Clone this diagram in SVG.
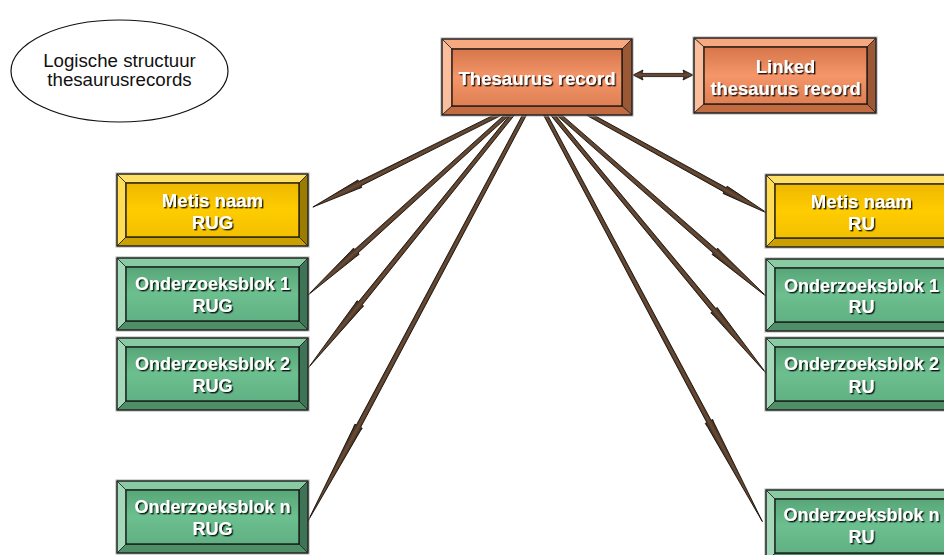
<svg xmlns="http://www.w3.org/2000/svg" xmlns:xlink="http://www.w3.org/1999/xlink" width="944" height="555" viewBox="0 0 944 555">
<style>
.bt{font-family:"Liberation Sans",Arial,sans-serif;font-weight:bold;fill:#fff;text-anchor:middle;filter:url(#sh)}
.lt{font-family:"Liberation Sans",Arial,sans-serif;font-size:18.7px;fill:#111;text-anchor:middle}
.fr{fill:none;stroke:#222;stroke-width:1.1}
.ln{stroke:#222;stroke-width:0.8}
.spear{fill:url(#wood);stroke:#140c06;stroke-width:0.8;stroke-linejoin:round}
.ob{font-size:18px}
.mt{font-size:18.6px}
</style>
<defs>
<filter id="sh" x="-10%" y="-30%" width="120%" height="160%">
<feDropShadow dx="1.4" dy="1.4" stdDeviation="0.4" flood-color="#000" flood-opacity="0.85"/>
</filter>
<linearGradient id="gO" x1="0" y1="0" x2="0" y2="1"><stop offset="0" stop-color="#D6764A"/><stop offset="0.5" stop-color="#F4956A"/><stop offset="1" stop-color="#DE8053"/></linearGradient>
<linearGradient id="gY" x1="0" y1="0" x2="0" y2="1"><stop offset="0" stop-color="#EDB800"/><stop offset="0.5" stop-color="#FFCC00"/><stop offset="1" stop-color="#F2C000"/></linearGradient>
<linearGradient id="gG" x1="0" y1="0" x2="0" y2="1"><stop offset="0" stop-color="#58A678"/><stop offset="0.5" stop-color="#6CBF8E"/><stop offset="1" stop-color="#60B083"/></linearGradient>
<linearGradient id="wood" x1="0" y1="0" x2="0" y2="1"><stop offset="0" stop-color="#3A2819"/><stop offset="0.5" stop-color="#6A4D37"/><stop offset="1" stop-color="#33231A"/></linearGradient>
<symbol id="boxY" viewBox="0 0 191 72" width="191" height="72" overflow="visible">
<rect x="-1" y="-1" width="193" height="74" fill="none" stroke="#aaa" stroke-width="1"/>
<polygon points="0,0 191,0 182,9 9,9" fill="#FFE066" class="ln"/>
<polygon points="0,0 9,9 9,63 0,72" fill="#FFDD55" class="ln"/>
<polygon points="191,0 191,72 182,63 182,9" fill="#9C7C00" class="ln"/>
<polygon points="0,72 9,63 182,63 191,72" fill="#C9A000" class="ln"/>
<rect x="9" y="9" width="173" height="54" fill="url(#gY)" stroke="#111" stroke-width="1.3"/>
<rect x="0" y="0" width="191" height="72" class="fr"/>
</symbol>
<symbol id="boxG" viewBox="0 0 191 72" width="191" height="72" overflow="visible">
<rect x="-1" y="-1" width="193" height="74" fill="none" stroke="#aaa" stroke-width="1"/>
<polygon points="0,0 191,0 182,9 9,9" fill="#88CBA2" class="ln"/>
<polygon points="0,0 9,9 9,63 0,72" fill="#A3D9B8" class="ln"/>
<polygon points="191,0 191,72 182,63 182,9" fill="#3E7455" class="ln"/>
<polygon points="0,72 9,63 182,63 191,72" fill="#4E8F67" class="ln"/>
<rect x="9" y="9" width="173" height="54" fill="url(#gG)" stroke="#111" stroke-width="1.3"/>
<rect x="0" y="0" width="191" height="72" class="fr"/>
</symbol>
</defs>
<rect width="944" height="555" fill="#fff"/>

<g id="title">
<ellipse cx="119.5" cy="71" rx="108.5" ry="51" fill="#fff" stroke="#111" stroke-width="1.2"/>
<text class="lt" x="119.5" y="66.7">Logische structuur</text>
<text class="lt" x="119.5" y="86">thesaurusrecords</text>
</g>

<g id="connectors">
<polygon class="spear" transform="translate(500 114) rotate(153.56)" points="0,-1.8 156.5,-2.4 156.5,-4.2 161,-3.8 209,0 161,3.8 156.5,4.2 156.5,2.4 0,1.8"/>
<polygon class="spear" transform="translate(508 114) rotate(137.85)" points="0,-1.8 204.5,-2.4 204.5,-4.2 209,-3.8 270.5,0 209,3.8 204.5,4.2 204.5,2.4 0,1.8"/>
<polygon class="spear" transform="translate(513 114) rotate(128.88)" points="0,-1.8 243.2,-2.4 243.2,-4.2 248,-3.8 326,0 248,3.8 243.2,4.2 243.2,2.4 0,1.8"/>
<polygon class="spear" transform="translate(525 114) rotate(118.07)" points="0,-1.8 353.8,-2.4 353.8,-4.2 358,-3.8 462,0 358,3.8 353.8,4.2 353.8,2.4 0,1.8"/>
<polygon class="spear" transform="translate(588 114) rotate(28.95)" points="0,-1.8 156.7,-2.4 156.7,-4.2 161,-3.8 205.5,0 161,3.8 156.7,4.2 156.7,2.4 0,1.8"/>
<polygon class="spear" transform="translate(558 114) rotate(41.2)" points="0,-1.8 208.4,-2.4 208.4,-4.2 213,-3.8 278.5,0 213,3.8 208.4,4.2 208.4,2.4 0,1.8"/>
<polygon class="spear" transform="translate(552 114) rotate(50.44)" points="0,-1.8 254.4,-2.4 254.4,-4.2 259,-3.8 337,0 259,3.8 254.4,4.2 254.4,2.4 0,1.8"/>
<polygon class="spear" transform="translate(545 114) rotate(61.93)" points="0,-1.8 348.4,-2.4 348.4,-4.2 353,-3.8 462,0 353,3.8 348.4,4.2 348.4,2.4 0,1.8"/>
<polygon class="spear" points="633,75 643,70 642,73.4 684,73.4 683,70 693,75 683,80 684,76.6 642,76.6 643,80"/>
</g>

<g id="thesaurus-record">
<rect x="441" y="38" width="192" height="78" fill="none" stroke="#aaa" stroke-width="1"/>
<polygon points="442,39 632,39 622,49 452,49" fill="#F6A981" class="ln"/>
<polygon points="442,39 452,49 452,106 442,115" fill="#FBBE9C" class="ln"/>
<polygon points="632,39 632,115 622,106 622,49" fill="#9A5835" class="ln"/>
<polygon points="442,115 452,106 622,106 632,115" fill="#C26B40" class="ln"/>
<rect x="452" y="49" width="170" height="57" fill="url(#gO)" stroke="#111" stroke-width="1.3"/>
<rect x="442" y="39" width="190" height="76" class="fr"/>
<text class="bt" style="font-size:18.6px" x="537" y="85">Thesaurus record</text>
</g>

<g id="linked-record">
<rect x="693" y="37" width="184" height="77" fill="none" stroke="#aaa" stroke-width="1"/>
<polygon points="694,38 876,38 867,47 704,47" fill="#F6A981" class="ln"/>
<polygon points="694,38 704,47 704,104 694,113" fill="#FBBE9C" class="ln"/>
<polygon points="876,38 876,113 867,104 867,47" fill="#9A5835" class="ln"/>
<polygon points="694,113 704,104 867,104 876,113" fill="#C26B40" class="ln"/>
<rect x="704" y="47" width="163" height="57" fill="url(#gO)" stroke="#111" stroke-width="1.3"/>
<rect x="694" y="38" width="182" height="75" class="fr"/>
<text class="bt" style="font-size:18.4px" x="785.5" y="73"><tspan x="785.5" y="73">Linked</tspan><tspan x="785.5" y="95">thesaurus record</tspan></text>
</g>

<g id="metis-rug">
<use href="#boxY" x="117" y="174"/>
<text class="bt mt" x="212.5"><tspan x="212.5" y="206.7">Metis naam</tspan><tspan x="212.5" y="228.5">RUG</tspan></text>
</g>
<g id="ob1-rug">
<use href="#boxG" x="117" y="258"/>
<text class="bt ob" x="212.5"><tspan x="212.5" y="290.3">Onderzoeksblok 1</tspan><tspan x="212.5" y="312">RUG</tspan></text>
</g>
<g id="ob2-rug">
<use href="#boxG" x="117" y="338"/>
<text class="bt ob" x="212.5"><tspan x="212.5" y="370">Onderzoeksblok 2</tspan><tspan x="212.5" y="392">RUG</tspan></text>
</g>
<g id="obn-rug">
<use href="#boxG" x="117" y="481"/>
<text class="bt ob" x="212.5"><tspan x="212.5" y="513.3">Onderzoeksblok n</tspan><tspan x="212.5" y="535.3">RUG</tspan></text>
</g>

<g id="metis-ru">
<use href="#boxY" x="766" y="175"/>
<text class="bt mt" x="861.5"><tspan x="861.5" y="207.7">Metis naam</tspan><tspan x="861.5" y="229.7">RU</tspan></text>
</g>
<g id="ob1-ru">
<use href="#boxG" x="766" y="259"/>
<text class="bt ob" x="861.5"><tspan x="861.5" y="291.5">Onderzoeksblok 1</tspan><tspan x="861.5" y="313.3">RU</tspan></text>
</g>
<g id="ob2-ru">
<use href="#boxG" x="766" y="338"/>
<text class="bt ob" x="861.5"><tspan x="861.5" y="370.3">Onderzoeksblok 2</tspan><tspan x="861.5" y="392.5">RU</tspan></text>
</g>
<g id="obn-ru">
<use href="#boxG" x="766" y="490"/>
<text class="bt ob" x="861.5"><tspan x="861.5" y="521.3">Onderzoeksblok n</tspan><tspan x="861.5" y="543.3">RU</tspan></text>
</g>
</svg>
